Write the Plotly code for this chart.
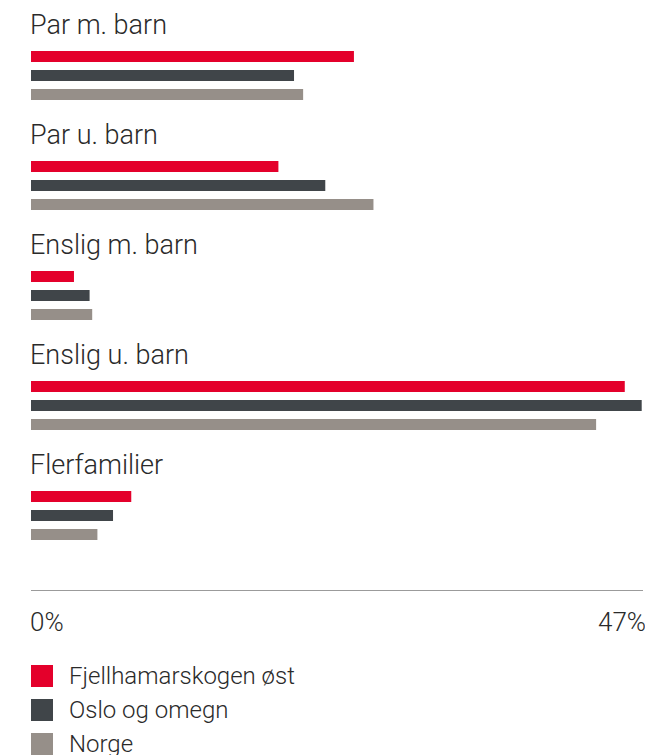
import plotly.graph_objects as go

categories = ["Par m. barn", "Par u. barn", "Enslig m. barn", "Enslig u. barn", "Flerfamilier"]
series_names = ["Fjellhamarskogen øst", "Oslo og omegn", "Norge"]
fjellhamarskogen = [24.8, 19.0, 3.3, 45.6, 7.7]
oslo_omegn = [20.2, 22.6, 4.5, 46.9, 6.3]
norge = [20.9, 26.3, 4.7, 43.4, 5.1]
x_max = 47
tick_labels = ["0%", "47%"]

series_values = [fjellhamarskogen, oslo_omegn, norge]
colors = ["#e4002b", "#404549", "#968f89"]

FONT = "Roboto"
TEXT_COLOR = "#2a2a2a"
W, H = 645, 755
L, R, T, B = 31, 2, 0, 165
PLOT_H = H - T - B  # 590, y axis units == pixels

GROUP_STEP = 110
LABEL_OFF = 25
BAR_OFF = 56.5
BAR_STEP = 19
BAR_W = 11

fig = go.Figure()
for j, (name, vals, col) in enumerate(zip(series_names, series_values, colors)):
    ys = [i * GROUP_STEP + BAR_OFF + j * BAR_STEP for i in range(len(categories))]
    fig.add_trace(go.Bar(
        x=vals, y=ys, orientation="h", width=BAR_W,
        marker=dict(color=col, line=dict(width=0)),
        name=name, showlegend=False,
        hovertemplate=name + ": %{x}%<extra></extra>",
    ))

annotations = []
for i, cat in enumerate(categories):
    annotations.append(dict(
        x=0, y=i * GROUP_STEP + LABEL_OFF, xref="x", yref="y",
        text=cat, showarrow=False, xanchor="left", yanchor="middle", xshift=-3,
        font=dict(family=FONT, size=27, color=TEXT_COLOR, weight=300),
    ))

def py(p):
    return (PLOT_H - (p - T)) / PLOT_H

annotations.append(dict(x=0, y=py(622), xref="x", yref="paper", text=tick_labels[0],
                        showarrow=False, xanchor="left", yanchor="middle", xshift=-3,
                        font=dict(family=FONT, size=26, color=TEXT_COLOR, weight=300)))
annotations.append(dict(x=x_max, y=py(622), xref="x", yref="paper", text=tick_labels[1],
                        showarrow=False, xanchor="right", yanchor="middle", xshift=5,
                        font=dict(family=FONT, size=26, color=TEXT_COLOR, weight=300)))

shapes = []
pw = W - L - R
def px(p):
    return (p - L) / pw

for j, (name, col) in enumerate(zip(series_names, colors)):
    cy = 676 + j * 34
    shapes.append(dict(type="rect", xref="paper", yref="paper",
                       x0=px(31), x1=px(53), y0=py(cy - 11), y1=py(cy + 11),
                       fillcolor=col, line=dict(width=0)))
    annotations.append(dict(x=px(70), y=py(cy), xref="paper", yref="paper", text=name,
                            showarrow=False, xanchor="left", yanchor="middle", xshift=-3,
                            font=dict(family=FONT, size=24, color=TEXT_COLOR, weight=300)))

fig.update_layout(
    width=W, height=H,
    margin=dict(l=L, r=R, t=T, b=B),
    paper_bgcolor="white", plot_bgcolor="white",
    barmode="overlay",
    xaxis=dict(range=[0, x_max], showgrid=False, zeroline=False, showticklabels=False,
               showline=True, linecolor="#9b9b9b", linewidth=1, ticks=""),
    yaxis=dict(range=[PLOT_H, 0], showgrid=False, zeroline=False, showticklabels=False,
               showline=False, ticks=""),
    annotations=annotations, shapes=shapes,
    showlegend=False,
)

fig.write_html("out.html")
